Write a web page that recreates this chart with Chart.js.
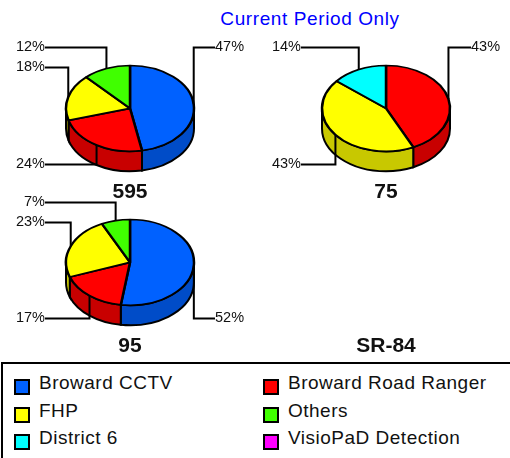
<!DOCTYPE html>
<html>
<head>
<meta charset="utf-8">
<script src="https://cdnjs.cloudflare.com/ajax/libs/Chart.js/4.4.1/chart.umd.min.js"></script>
<style>
html, body { margin: 0; padding: 0; background: #fff; width: 510px; height: 458px; overflow: hidden; font-family: "Liberation Sans", Arial, sans-serif; }
.box { position: absolute; width: 260px; height: 176px; }
#heading { position: absolute; left: 190px; width: 240px; top: 8px; text-align: center; color: #0000ff; font-size: 19px; letter-spacing: 0.6px; line-height: 22px; }
#legend { position: absolute; left: 1px; top: 362px; width: 520px; height: 100px; border: 2px solid #000; box-sizing: border-box; }
.item { position: absolute; font-size: 19px; letter-spacing: 0.5px; line-height: 22px; white-space: nowrap; color: #111; }
.item i { position: absolute; left: -25px; top: 7px; width: 12px; height: 12px; border: 2px solid #000; }
</style>
</head>
<body>
<div id="heading">Current Period Only</div>
<div class="box" style="left:0;top:29px"><canvas id="pie0"></canvas></div>
<div class="box" style="left:256px;top:29px"><canvas id="pie1"></canvas></div>
<div class="box" style="left:0;top:183px"><canvas id="pie2"></canvas></div>
<div class="box" style="left:256px;top:183px"><canvas id="pie3"></canvas></div>
<div id="legend"></div>
<script>
var categories = ["Broward CCTV", "Broward Road Ranger", "FHP", "Others", "District 6", "VisioPaD Detection"];
var colores = ["#0061ff", "#ff0000", "#ffff00", "#40ff00", "#00ffff", "#ff00ff"];
var roads = ["595", "75", "95", "SR-84"];

// labels are these values rounded
var values595 = [47, 23.5, 17.5, 12, 0, 0];
var values75 = [0, 43, 43, 0, 14, 0];
var values95 = [52.3, 17.2, 23.3, 7.2, 0, 0];
var valuesSR84 = [0, 0, 0, 0, 0, 0];

// height of each leader label relative to the pie centre, slice by slice
var rows595 = [-61, 56, -41, -61];
var rows75 = [-61, 56, -61];
var rows95 = [56, 56, -40, -60];
var rowsSR84 = [];

var TILT = 0.67, DEPTH = 20, REACH = 85;

function oscurecer(hex) {
    var n = parseInt(hex.slice(1), 16);
    var r = Math.round((n >> 16) * 0.785), g = Math.round(((n >> 8) & 255) * 0.785), b = Math.round((n & 255) * 0.785);
    return "rgb(" + r + "," + g + "," + b + ")";
}

var pie3d = {
    id: "pie3d",
    beforeDatasetsDraw: function (chart) {
        var arcs = chart.getDatasetMeta(0).data;
        var ctx = chart.ctx;
        if (!arcs.length) return;
        var x = arcs[0].x, y = arcs[0].y, r = arcs[0].outerRadius;
        var ry = r * TILT;
        // side wall: only the front half of the ellipse can be seen
        arcs.forEach(function (arc, i) {
            var a0 = Math.max(arc.startAngle, 0), a1 = Math.min(arc.endAngle, Math.PI);
            if (a1 <= a0) return;
            ctx.save();
            ctx.beginPath();
            ctx.ellipse(x, y, r, ry, 0, a0, a1);
            ctx.ellipse(x, y + DEPTH, r, ry, 0, a1, a0, true);
            ctx.closePath();
            ctx.fillStyle = oscurecer(chart.data.datasets[0].backgroundColor[i]);
            ctx.fill();
            ctx.lineWidth = 2;
            ctx.strokeStyle = "#000";
            ctx.stroke();
            ctx.restore();
        });
        ctx.save();
        ctx.translate(x, y);
        ctx.scale(1, TILT);
        ctx.translate(-x, -y);
    },
    afterDatasetsDraw: function (chart, args, opts) {
        var arcs = chart.getDatasetMeta(0).data;
        var ctx = chart.ctx;
        if (!arcs.length) return;
        ctx.restore();
        var valores = chart.data.datasets[0].data;
        var total = valores.reduce(function (a, b) { return a + b; }, 0);
        ctx.save();
        ctx.font = "14.5px 'Liberation Sans', Arial, sans-serif";
        ctx.textBaseline = "middle";
        arcs.forEach(function (arc, i) {
            var mid = (arc.startAngle + arc.endAngle) / 2;
            var ax = arc.x + arc.outerRadius * Math.cos(mid);
            var ay = arc.y + arc.outerRadius * TILT * Math.sin(mid);
            var ly = arc.y + opts.rows[i];
            var derecha = Math.cos(mid) > 0;
            var ex = arc.x + (derecha ? REACH : -REACH);
            ctx.beginPath();
            ctx.moveTo(ax, ay);
            ctx.lineTo(ax, ly);
            ctx.lineTo(ex, ly);
            ctx.lineWidth = 2;
            ctx.strokeStyle = "#000";
            ctx.stroke();
            ctx.fillStyle = "#111";
            ctx.textAlign = derecha ? "left" : "right";
            ctx.fillText(Math.round(valores[i] / total * 100) + "%", ex, ly);
        });
        ctx.restore();
    }
};

function grafico(id, titulo, valores, rows) {
    var etiquetas = [], datos = [], fondo = [];
    valores.forEach(function (v, i) {
        if (v > 0) {
            etiquetas.push(categories[i]);
            datos.push(v);
            fondo.push(colores[i]);
        }
    });
    new Chart(document.getElementById(id).getContext("2d"), {
        type: "pie",
        data: {
            labels: etiquetas,
            datasets: [{
                data: datos,
                backgroundColor: fondo,
                borderColor: "#000",
                borderWidth: 2.5
            }]
        },
        options: {
            responsive: false,
            animation: false,
            radius: 64,
            layout: { padding: { top: 8 } },
            plugins: {
                legend: { display: false },
                tooltip: { enabled: false },
                title: {
                    display: true,
                    text: titulo,
                    position: "bottom",
                    color: "#111",
                    padding: 0,
                    font: { family: "'Liberation Sans', Arial, sans-serif", size: 21, weight: "bold" }
                },
                pie3d: { rows: rows }
            }
        },
        plugins: [pie3d]
    });
}

document.querySelectorAll("canvas").forEach(function (c) { c.width = 260; c.height = 176; });

grafico("pie0", roads[0], values595, rows595);
grafico("pie1", roads[1], values75, rows75);
grafico("pie2", roads[2], values95, rows95);
grafico("pie3", roads[3], valuesSR84, rowsSR84);

var legend = document.getElementById("legend");
categories.forEach(function (nombre, i) {
    var d = document.createElement("div");
    d.className = "item";
    d.style.left = (i % 2 ? 285 : 36) + "px";
    d.style.top = (Math.floor(i / 2) * 27.5 + 8) + "px";
    d.innerHTML = "<i style='background:" + colores[i] + "'></i>" + nombre;
    legend.appendChild(d);
});
</script>
</body>
</html>
